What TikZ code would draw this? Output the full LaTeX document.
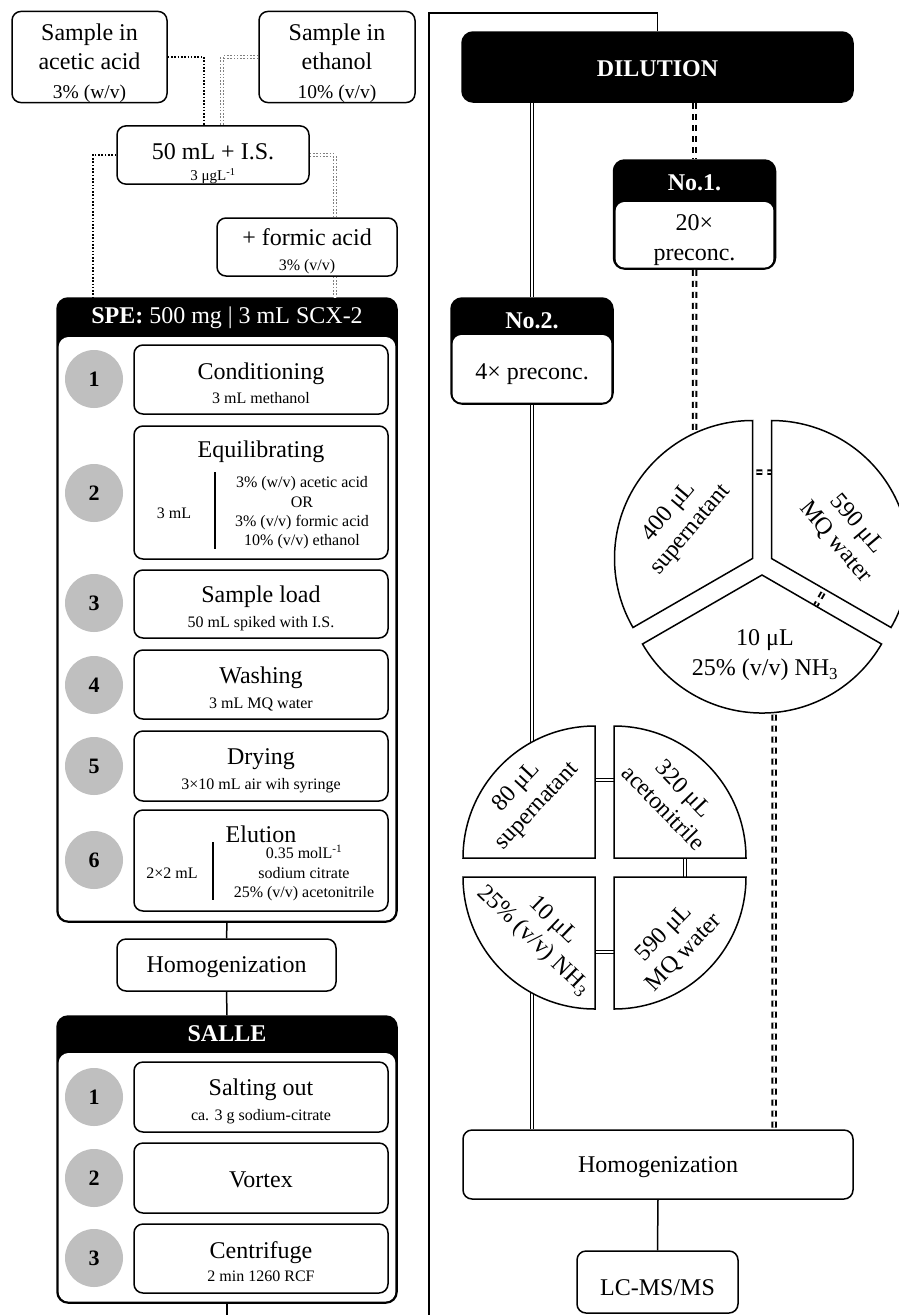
\documentclass[tikz,border=0pt]{standalone}
\usepackage{fontspec}
\setmainfont{Liberation Serif}
\newcommand\mainsz{\fontsize{24}{29}\selectfont}
\newcommand\subsz{\fontsize{16}{19.3}\selectfont}
\newcommand\midsz{\fontsize{19.5}{22}\selectfont}
\newcommand\lift[1]{\rule{0pt}{#1}}
\tikzset{
  box/.style={draw, line width=1.5pt, rounded corners=9pt, fill=white, align=center, inner sep=0pt, font=\mainsz},
  hdrbox/.style={draw, line width=1.5pt, rounded corners=11pt, fill=black, inner sep=0pt},
  hdrtext/.style={text=white, font=\mainsz, inner sep=0pt},
  stepnum/.style={circle, fill=black!25, minimum size=58pt, inner sep=0pt, font=\bfseries\fontsize{22}{22}\selectfont},
  plaintext/.style={inner sep=0pt, align=center},
  solidline/.style={line width=1.5pt},
  dotline/.style={line width=1.6pt, dash pattern=on 1.6pt off 1.7pt},
  graydots/.style={draw=black!50, line width=1.4pt, double=white, double distance=1.4pt, dash pattern=on 1.6pt off 1.7pt},
  dbldash/.style={line width=2pt, double=white, double distance=1.5pt, dash pattern=on 6pt off 5pt},
  dblsolid/.style={line width=1.1pt, double=white, double distance=2.4pt},
  sector/.style={draw, line width=1.5pt, fill=white},
  pielabel/.style={inner sep=0pt, align=center, font=\fontsize{24}{28}\selectfont}
}
\begin{document}
\begin{tikzpicture}[x=1pt,y=-1pt]
\useasboundingbox (0,0) rectangle (899,1315);
\clip (0,0) rectangle (899,1315);
\fill[white] (0,0) rectangle (899,1315);

% ---------- left column: sample preparation ----------
\node[box, minimum width=155pt, minimum height=86pt] (acetic) at (89.5,57)
  {\lift{29pt}Sample in\\acetic acid\\{\midsz 3\% (w/v)}};
\node[box, minimum width=156pt, minimum height=86pt] (ethanol) at (337,57)
  {\lift{29pt}Sample in\\ethanol\\{\midsz 10\% (v/v)}};
\node[box, minimum width=192pt, minimum height=58pt] (is) at (213,155)
  {\lift{34pt}50 mL + I.S.\\[-8pt]{\fontsize{15}{18}\selectfont 3 μgL\textsuperscript{-1}}};
\node[box, minimum width=180pt, minimum height=58pt] (formic) at (307,247)
  {\lift{25pt}+ formic acid\\[-4pt]{\subsz 3\% (v/v)}};

% SPE block
\node[hdrbox, minimum width=340pt, minimum height=624pt] (spe) at (227,610) {};
\fill[white, rounded corners=10pt] (58.6,337) rectangle (395.4,920.6);
\node[hdrtext] (spet) at (227,318) {\textbf{SPE:} 500 mg | 3 mL SCX-2};

\node[box, minimum width=254pt, minimum height=69pt] (s1) at (261,379.5)
  {\lift{24pt}Conditioning\\[-5pt]{\subsz 3 mL methanol}};
\node[box, minimum width=254pt, minimum height=133pt] (s2) at (261,492.5) {};
\node[plaintext, font=\mainsz] (s2t) at (261,452) {Equilibrating};
\node[plaintext, font=\subsz] (s2v) at (174,513) {3 mL};
\node[plaintext, font=\subsz] (s2s) at (302,513)
  {3\% (w/v) acetic acid\\OR\\3\% (v/v) formic acid\\10\% (v/v) ethanol};
\draw[solidline] (215,472) -- (215,549);
\node[box, minimum width=254pt, minimum height=68pt] (s3) at (261,604)
  {\lift{25pt}Sample load\\[-4pt]{\subsz 50 mL spiked with I.S.}};
\node[box, minimum width=254pt, minimum height=69pt] (s4) at (261,684.5)
  {\lift{25pt}Washing\\[-4pt]{\subsz 3 mL MQ water}};
\node[box, minimum width=254pt, minimum height=70pt] (s5) at (261,766)
  {\lift{26pt}Drying\\[-4pt]{\subsz 3×10 mL air wih syringe}};
\node[box, minimum width=254pt, minimum height=101pt] (s6) at (261,860.5) {};
\node[plaintext, font=\mainsz] (s6t) at (261,834) {Elution};
\node[plaintext, font=\subsz] (s6v) at (172,873) {2×2 mL};
\node[plaintext, font=\subsz] (s6s) at (304,873)
  {0.35 molL\textsuperscript{-1}\\sodium citrate\\25\% (v/v) acetonitrile};
\draw[solidline] (213,842) -- (213,900);

\node[stepnum] (c1) at (94,379) {1};
\node[stepnum] (c2) at (94,493) {2};
\node[stepnum] (c3) at (94,603) {3};
\node[stepnum] (c4) at (94,685) {4};
\node[stepnum] (c5) at (94,766) {5};
\node[stepnum] (c6) at (94,860) {6};

\node[box, minimum width=219pt, minimum height=52pt] (homL) at (226.5,965) {\lift{20pt}Homogenization};

% SALLE block
\node[hdrbox, minimum width=340pt, minimum height=287pt] (salle) at (227,1159.5) {};
\fill[white, rounded corners=10pt] (58.6,1053) rectangle (395.4,1301.6);
\node[hdrtext, font=\bfseries\mainsz] (sallet) at (227,1034) {SALLE};
\node[box, minimum width=254pt, minimum height=70pt] (t1) at (261,1097)
  {\lift{25pt}Salting out\\[-4pt]{\subsz ca. 3 g sodium-citrate}};
\node[box, minimum width=254pt, minimum height=70pt] (t2) at (261,1178) {\lift{20pt}Vortex};
\node[box, minimum width=254pt, minimum height=69pt] (t3) at (261,1258.5)
  {\lift{24pt}Centrifuge\\[-6pt]{\subsz 2 min 1260 RCF}};
\node[stepnum] (d1) at (94,1097) {1};
\node[stepnum] (d2) at (94,1178) {2};
\node[stepnum] (d3) at (94,1258) {3};

% ---------- right column: dilution ----------
\node[hdrbox, minimum width=391pt, minimum height=70pt, text=white, font=\bfseries\mainsz] (dil) at (657.5,67) {\lift{20pt}DILUTION};

\node[hdrbox, minimum width=162pt, minimum height=109pt] (no1) at (694.5,214.5) {};
\fill[white, rounded corners=9pt] (615.6,202) rectangle (773.4,267.6);
\node[hdrtext, font=\bfseries\mainsz] (no1t) at (694.5,183) {No.1.};
\node[plaintext, font=\fontsize{24}{30}\selectfont] (no1b) at (694.5,240) {20×\\preconc.};

\node[hdrbox, minimum width=162pt, minimum height=106pt] (no2) at (532,351) {};
\fill[white, rounded corners=9pt] (452.6,335) rectangle (611.4,402.6);
\node[hdrtext, font=\bfseries\mainsz] (no2t) at (532,321) {No.2.};
\node[plaintext, font=\mainsz] (no2b) at (532,374) {4× preconc.};

\node[box, minimum width=390pt, minimum height=69pt] (homR) at (658,1164.5) {\lift{21pt}Homogenization};
\node[box, minimum width=161pt, minimum height=62pt] (lcms) at (657.5,1282) {\lift{28pt}LC-MS/MS};

% ---------- connectors ----------
\coordinate (j1) at (204,126);
\coordinate (j2) at (222,126);
\coordinate (j3) at (93,298);
\coordinate (j4) at (335,218);
\draw[dotline] (acetic.east) -| (j1);
\draw[graydots] (ethanol.west) -| (j2);
\draw[dotline] (is.west) -| (j3);
\draw[graydots] (is.east) -| (j4);
\draw[graydots] (formic.south -| j4) -- (j4 |- spe.north);

\draw[solidline] (spe.south) -- (homL.north);
\draw[solidline] (homL.south) -- (salle.north);
\coordinate (b1) at (227,1340);
\coordinate (b2) at (429,1340);
\coordinate (b3) at (429,13);
\draw[solidline] (salle.south) -- (b1) -- (b2) -- (b3) -| (dil.north);

\draw[dblsolid] (no2.north |- dil.south) -- (no2.north);
\draw[dbldash] (no1.north |- dil.south) -- (no1.north);

\coordinate (p2a) at (532,780);
\coordinate (p2b) at (685,780);
\coordinate (p2c) at (685,952);
\coordinate (p2d) at (532,952);
\draw[dblsolid] (no2.south) -- (p2a) -- (p2b) -- (p2c) -- (p2d) -- (p2d |- homR.north);

\coordinate (p1a) at (694.5,472);
\coordinate (p1b) at (840,472);
\coordinate (p1c) at (840,563);
\coordinate (p1d) at (800,633);
\coordinate (p1e) at (774,633);
\draw[dbldash] (no1.south) -- (p1a) -- (p1b) -- (p1c) -- (p1d) -- (p1e) -- (p1e |- homR.north);

\draw[solidline] (homR.south) -- (lcms.north);

% ---------- three-part pie (No.1) ----------
\draw[sector] (752.5,558.5) -- ++(-90:138) arc[start angle=-90, end angle=-210, radius=138] -- cycle;
\draw[sector] (771.5,558.5) -- ++(30:138) arc[start angle=30, end angle=-90, radius=138] -- cycle;
\draw[sector] (762,575) -- ++(150:138) arc[start angle=150, end angle=30, radius=138] -- cycle;
\node[pielabel, rotate=50] (q400) at (680,521) {400 μL\\supernatant};
\node[pielabel, rotate=-50] (q590) at (846,533) {590 μL\\MQ water};
\node[pielabel, font=\fontsize{24}{30}\selectfont] (q10) at (765,655) {10 μL\\25\% (v/v) NH\textsubscript{3}};

% ---------- four-part pie (No.2) ----------
\draw[sector] (595,858) -- ++(180:132) arc[start angle=180, end angle=270, radius=132] -- cycle;
\draw[sector] (614,858) -- ++(270:132) arc[start angle=270, end angle=360, radius=132] -- cycle;
\draw[sector] (595,877) -- ++(90:132) arc[start angle=90, end angle=180, radius=132] -- cycle;
\draw[sector] (614,877) -- ++(0:132) arc[start angle=0, end angle=90, radius=132] -- cycle;
\node[pielabel, rotate=47] (r80) at (527,797) {80 μL\\supernatant};
\node[pielabel, rotate=-46] (r320) at (674,798) {320 μL\\acetonitrile};
\node[pielabel, rotate=-44] (r10) at (543,931) {10 μL\\25\% (v/v) NH\textsubscript{3}};
\node[pielabel, rotate=46] (r590) at (674,943) {590 μL\\MQ water};
\end{tikzpicture}
\end{document}
